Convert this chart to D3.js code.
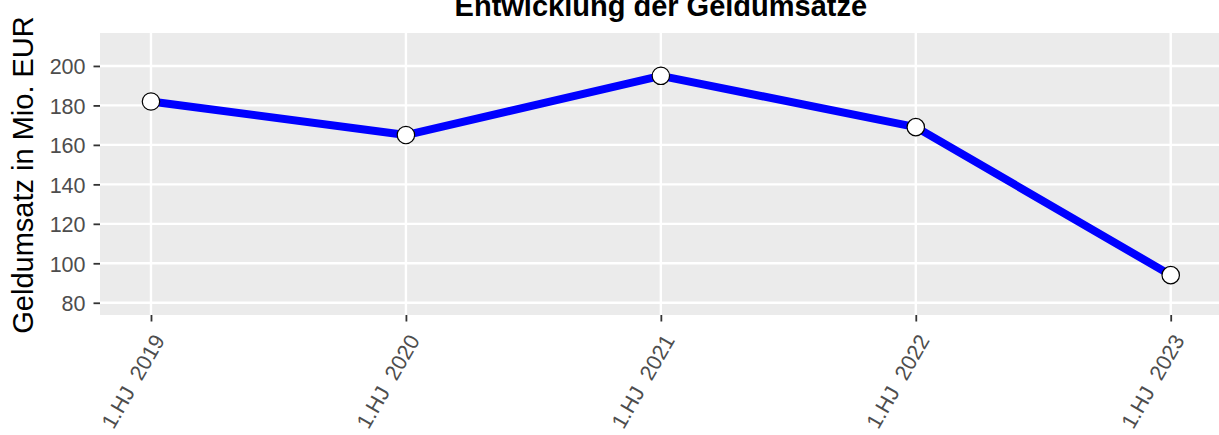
<!DOCTYPE html>
<html><head><meta charset="utf-8">
<script src="https://cdn.jsdelivr.net/npm/d3@7"></script>
<style>body{margin:0;background:#fff;} text{font-family:"Liberation Sans",Arial,sans-serif;}</style>
</head><body>
<svg id="chart" width="1219" height="435"></svg>
<script>
const categories = ["1.HJ  2019", "1.HJ  2020", "1.HJ  2021", "1.HJ  2022", "1.HJ  2023"];
const values = [182, 165, 195, 169, 94];
const yTicks = [80, 100, 120, 140, 160, 180, 200];
const title = "Entwicklung der Geldumsätze";
const yTitle = "Geldumsatz in Mio. EUR";

const svg = d3.select("#chart");
const panel = {left: 100, right: 1221.7, top: 33, bottom: 315};

const x = d3.scaleLinear().domain([-0.2, categories.length - 1 + 0.2]).range([panel.left, panel.right]);
const y = d3.scaleLinear().domain([73.8, 216.7]).range([panel.bottom, panel.top]);

svg.append("rect").attr("x", panel.left).attr("y", panel.top)
  .attr("width", panel.right - panel.left).attr("height", panel.bottom - panel.top)
  .attr("fill", "#ebebeb");

// gridlines
svg.append("g").selectAll("line").data(yTicks).join("line")
  .attr("x1", panel.left).attr("x2", panel.right)
  .attr("y1", d => y(d)).attr("y2", d => y(d))
  .attr("stroke", "#fff").attr("stroke-width", 2.4);
svg.append("g").selectAll("line").data(categories).join("line")
  .attr("x1", (d, i) => x(i)).attr("x2", (d, i) => x(i))
  .attr("y1", panel.top).attr("y2", panel.bottom)
  .attr("stroke", "#fff").attr("stroke-width", 2.4);

// y axis
const yAxis = d3.axisLeft(y).tickValues(yTicks).tickSize(6.5).tickPadding(8);
const gy = svg.append("g").attr("transform", `translate(${panel.left},0)`).call(yAxis);
gy.select(".domain").remove();
gy.selectAll(".tick line").attr("stroke", "#333").attr("stroke-width", 1.8);
gy.selectAll(".tick text").attr("fill", "#4d4d4d").style("font-size", "21.5px")
  .attr("dy", "0.36em");

// x axis
const xAxis = d3.axisBottom(x).tickValues(d3.range(categories.length))
  .tickFormat(i => categories[i]).tickSize(6.5).tickPadding(4);
const gx = svg.append("g").attr("transform", `translate(0,${panel.bottom})`).call(xAxis);
gx.select(".domain").remove();
gx.selectAll(".tick line").attr("stroke", "#333").attr("stroke-width", 1.8);
gx.selectAll(".tick text").attr("fill", "#4d4d4d").style("font-size", "21.5px")
  .style("white-space", "pre")
  .attr("text-anchor", "end").attr("dy", "0.35em")
  .attr("transform", "translate(7.5,21.5) rotate(-60)").attr("x", 0).attr("y", 0);

// line
const line = d3.line().x((d, i) => x(i)).y(d => y(d));
svg.append("path").datum(values).attr("d", line)
  .attr("fill", "none").attr("stroke", "#0000ff").attr("stroke-width", 8)
  .attr("stroke-linejoin", "round");

svg.append("g").selectAll("circle").data(values).join("circle")
  .attr("cx", (d, i) => x(i)).attr("cy", d => y(d)).attr("r", 8.7)
  .attr("fill", "#fff").attr("stroke", "#000").attr("stroke-width", 1.2);

// titles
svg.append("text").attr("x", (panel.left + panel.right) / 2).attr("y", 16)
  .attr("text-anchor", "middle").style("font-size", "29px").style("font-weight", "bold")
  .attr("fill", "#000").text(title);
svg.append("text").attr("transform", `translate(33,${(panel.top + panel.bottom) / 2 + 1}) rotate(-90)`)
  .attr("text-anchor", "middle").style("font-size", "29px").attr("fill", "#000").text(yTitle);
</script>
</body></html>
